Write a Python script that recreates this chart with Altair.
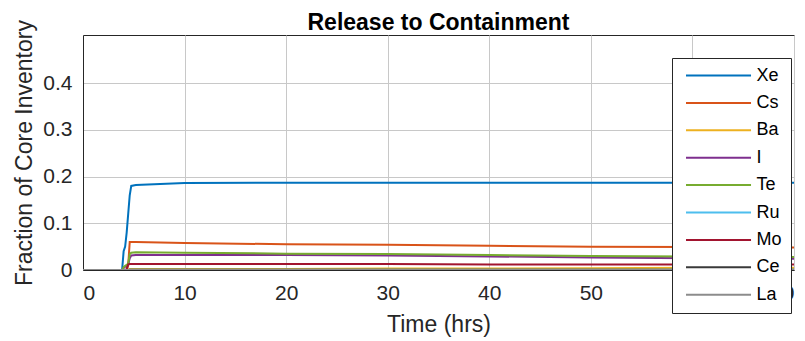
import altair as alt
import pandas as pd

# time grid (hrs)
time = [0, 3.85, 4.0, 4.15, 4.3, 4.45, 4.6, 4.75, 5.2, 10, 20, 30, 40, 50, 60, 70]

Xe = [0, 0, 0.04, 0.05, 0.08, 0.12, 0.16, 0.18, 0.182, 0.186, 0.187, 0.187, 0.187, 0.187, 0.187, 0.187]
Cs = [0, 0, 0, 0, 0, 0.01, 0.06, 0.06, 0.06, 0.058, 0.055, 0.054, 0.052, 0.050, 0.049, 0.048]
Ba = [0, 0, 0, 0, 0, 0.001, 0.002, 0.002, 0.002, 0.002, 0.002, 0.003, 0.003, 0.004, 0.005, 0.005]
I_ = [0, 0, 0.004, 0.007, 0.009, 0.012, 0.025, 0.031, 0.032, 0.032, 0.032, 0.031, 0.029, 0.027, 0.025, 0.024]
Te = [0, 0, 0.006, 0.009, 0.011, 0.014, 0.034, 0.037, 0.038, 0.037, 0.035, 0.034, 0.032, 0.030, 0.029, 0.028]
Ru = [0, 0, 0, 0, 0, 0, 0.0005, 0.0005, 0.0005, 0.0005, 0.0005, 0.0005, 0.0005, 0.0005, 0.0005, 0.0005]
Mo = [0, 0, 0, 0, 0.002, 0.012, 0.013, 0.013, 0.013, 0.013, 0.013, 0.013, 0.012, 0.012, 0.012, 0.012]
Ce = [0, 0, 0, 0, 0, 0, 0.0003, 0.0003, 0.0003, 0.0003, 0.0003, 0.0003, 0.0003, 0.0003, 0.0003, 0.0003]
La = [0, 0, 0, 0, 0, 0, 0.0002, 0.0002, 0.0002, 0.0002, 0.0002, 0.0002, 0.0002, 0.0002, 0.0002, 0.0002]

species = ["Xe", "Cs", "Ba", "I", "Te", "Ru", "Mo", "Ce", "La"]
series = [Xe, Cs, Ba, I_, Te, Ru, Mo, Ce, La]
colors = ["#0072BD", "#D95319", "#EDB120", "#7E2F8E", "#77AC30", "#4DBEEE", "#A2142F", "#3a3a3a", "#8c8c8c"]

rows = []
for k, (name, vals) in enumerate(zip(species, series)):
    for t, v in zip(time, vals):
        rows.append({"Time": t, "Value": v, "Species": name, "order": k})
df = pd.DataFrame(rows)

FONT = "Liberation Sans"

chart = alt.Chart(df).mark_line(strokeWidth=2, clip=True).encode(
    x=alt.X("Time:Q", scale=alt.Scale(domain=[0, 70], nice=False),
            axis=alt.Axis(title="Time (hrs)", values=[0, 10, 20, 30, 40, 50, 60, 70],
                          labelPadding=12, titlePadding=10)),
    y=alt.Y("Value:Q", scale=alt.Scale(domain=[0, 0.503], nice=False),
            axis=alt.Axis(title="Fraction of Core Inventory", values=[0, 0.1, 0.2, 0.3, 0.4],
                          labelPadding=11, titlePadding=6,
                          labelExpr="datum.value == 0 ? '0' : format(datum.value, '.1f')")),
    color=alt.Color("Species:N", scale=alt.Scale(domain=species, range=colors),
                    legend=alt.Legend(title=None, orient="none", legendX=589, legendY=23,
                                      symbolType="M-1,0H7.67", symbolSize=225, symbolStrokeWidth=2,
                                      symbolOffset=4,
                                      labelFontSize=18, labelFont=FONT, labelColor="#000000",
                                      fillColor="white", strokeColor="#262626", padding=8.5,
                                      rowPadding=9.4, labelOffset=54)),
    order=alt.Order("order:Q"),
).properties(
    width=711, height=235,
    background="white",
    title=alt.TitleParams("Release to Containment", fontSize=23, font=FONT, fontWeight="bold",
                          color="#000000", offset=2, dy=17, anchor="middle", frame="group"),
    autosize=alt.AutoSizeParams(type="none"),
    padding={"left": 83, "top": 35, "right": 11, "bottom": 71},
).configure_view(
    stroke="#262626", strokeWidth=1
).configure_axis(
    labelFont=FONT, labelFontSize=21, labelColor="#262626",
    titleFont=FONT, titleFontSize=23, titleColor="#262626", titleFontWeight="normal",
    grid=True, gridColor="#c8c8c8", gridWidth=1,
    domainColor="#262626", tickSize=0,
)

chart.save("out.html", embed_options={"renderer": "svg", "actions": False})
